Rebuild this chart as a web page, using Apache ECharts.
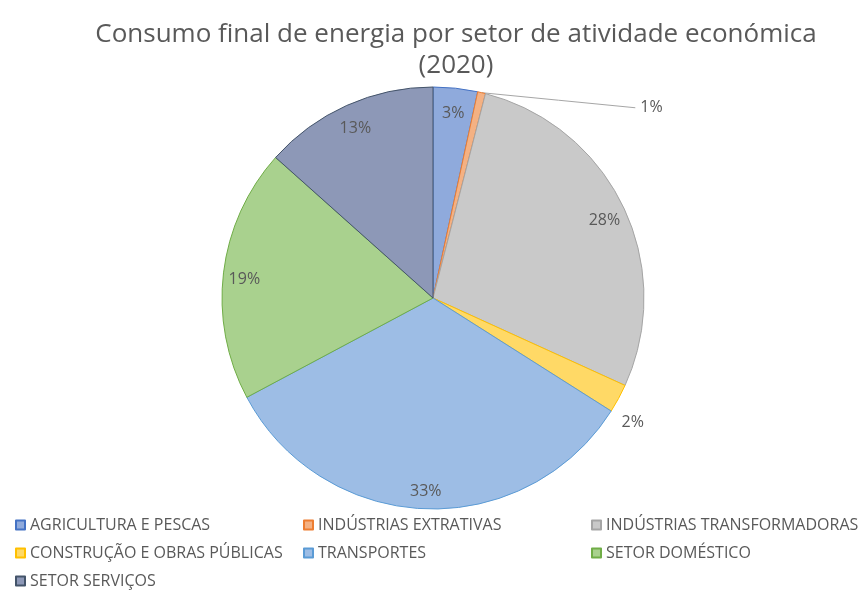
<!DOCTYPE html>
<html>
<head>
<meta charset="utf-8">
<script src="https://cdn.jsdelivr.net/npm/echarts@6/dist/echarts.min.js"></script>
<style>
html,body{margin:0;padding:0;background:#fff;}
#chart{width:866px;height:590px;}
</style>
</head>
<body>
<div id="chart"></div>
<script>
const titleText = 'Consumo final de energia por setor de atividade económica\n(2020)';
const categories = [
  'AGRICULTURA E PESCAS',
  'INDÚSTRIAS EXTRATIVAS',
  'INDÚSTRIAS TRANSFORMADORAS',
  'CONSTRUÇÃO E OBRAS PÚBLICAS',
  'TRANSPORTES',
  'SETOR DOMÉSTICO',
  'SETOR SERVIÇOS'
];
const shares = [3.4, 0.6, 27.8, 2.2, 33.2, 19.4, 13.4];
const fillColors = ['#8faadc', '#f4b183', '#c9c9c9', '#ffd966', '#9dbde5', '#a9d18e', '#8d98b7'];
const borderColors = ['#4472c4', '#ed7d31', '#a5a5a5', '#ffc000', '#5b9bd5', '#70ad47', '#44546a'];

const FONT = 'Open Sans';
const pctFmt = p => Math.round(p.percent) + '%';

// small slices get their labels outside the pie
const outsideLabels = {
  'INDÚSTRIAS EXTRATIVAS': {line: true, length: 3, length2: 150, dx: 3, dy: 18},
  'CONSTRUÇÃO E OBRAS PÚBLICAS': {line: false, length: 8, length2: 0, dx: -9, dy: 20}
};

const mainData = categories.map((name, i) => {
  const o = outsideLabels[name];
  const item = {
    name: name,
    value: shares[i],
    itemStyle: {color: fillColors[i], borderColor: borderColors[i], borderWidth: 1}
  };
  if (o) {
    item.label = {show: true, position: 'outside'};
    item.labelLine = {show: o.line, length: o.length, length2: o.length2,
      lineStyle: {color: '#a6a6a6', width: 1}};
  } else {
    item.label = {show: false};
    item.labelLine = {show: false};
  }
  return item;
});

const labelData = categories.map((name, i) => ({
  name: name,
  value: shares[i],
  label: {show: !outsideLabels[name]}
}));

const chart = echarts.init(document.getElementById('chart'), null, {renderer: 'canvas'});
chart.setOption({
  animation: false,
  backgroundColor: '#ffffff',
  title: {
    text: titleText,
    left: 451,
    textAlign: 'center',
    top: 14,
    textStyle: {fontFamily: FONT, fontSize: 26, fontWeight: 'normal', color: '#595959', lineHeight: 31}
  },
  legend: {
    data: categories,
    left: 10,
    top: 512,
    width: 856,
    orient: 'horizontal',
    itemWidth: 9,
    itemHeight: 9,
    itemGap: 12,
    icon: 'rect',
    selectedMode: false,
    textStyle: {fontFamily: FONT, fontSize: 16, color: '#595959', width: 261, lineHeight: 16, overflow: 'none'}
  },
  series: [
    {
      type: 'pie',
      center: [433, 298],
      radius: [0, 211],
      startAngle: 90,
      clockwise: true,
      avoidLabelOverlap: false,
      label: {fontFamily: FONT, fontSize: 16, color: '#595959', formatter: pctFmt},
      labelLayout: function (p) {
        const o = outsideLabels[categories[p.dataIndex]];
        if (!o) return {};
        const res = {dx: o.dx, dy: o.dy};
        const pts = p.labelLinePoints;
        if (o.line && pts && pts.length) {
          const a = pts[0];
          const b = pts[pts.length - 1];
          const end = [b[0] + o.dx, b[1] + o.dy];
          res.labelLinePoints = [a, [(a[0] + end[0]) / 2, (a[1] + end[1]) / 2], end];
        }
        return res;
      },
      data: mainData
    },
    {
      type: 'pie',
      center: [433, 302],
      radius: [180, 194],
      startAngle: 90,
      clockwise: true,
      silent: true,
      avoidLabelOverlap: false,
      itemStyle: {color: 'rgba(0,0,0,0)', borderWidth: 0},
      label: {show: true, position: 'inside', fontFamily: FONT, fontSize: 16, color: '#595959', formatter: pctFmt},
      labelLine: {show: false},
      emphasis: {disabled: true},
      data: labelData
    }
  ]
});
</script>
</body>
</html>
